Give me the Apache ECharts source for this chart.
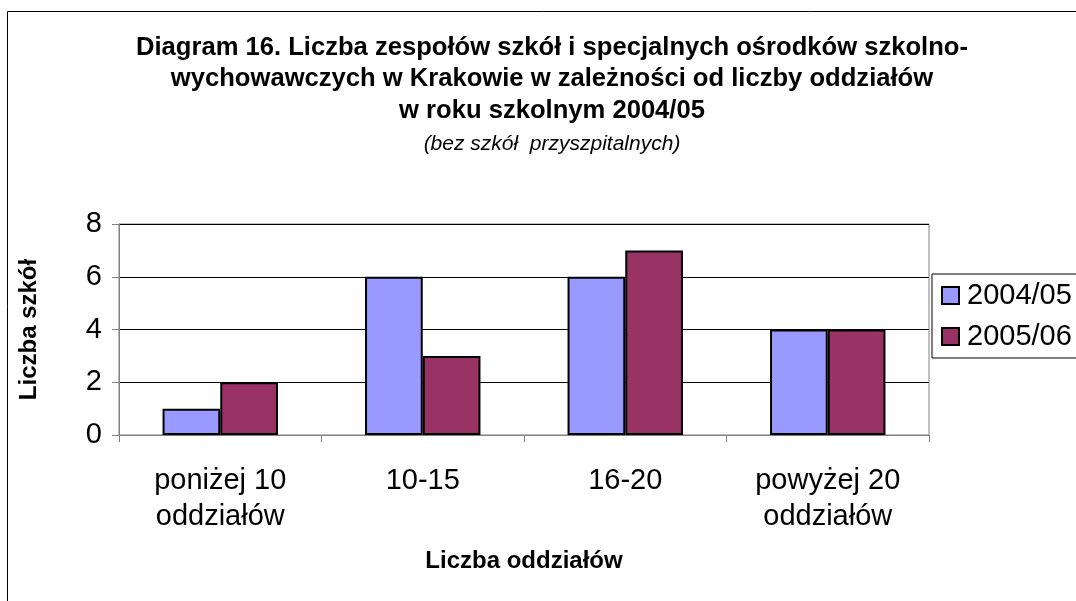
<!DOCTYPE html>
<html>
<head>
<meta charset="utf-8">
<script src="https://cdn.jsdelivr.net/npm/echarts@6/dist/echarts.min.js"></script>
<style>
  html, body { margin: 0; padding: 0; background: #fff; }
  #chart { width: 1076px; height: 601px; }
</style>
</head>
<body>
<div id="chart"></div>
<script>
var categories = ['poniżej 10\noddziałów', '10-15', '16-20', 'powyżej 20\noddziałów'];
var seriesNames = ['2004/05', '2005/06'];
var values2004 = [1, 6, 6, 4];
var values2005 = [2, 3, 7, 4];
var yTicks = { min: 0, max: 8, interval: 2 };

var font = 'Liberation Sans, Arial, sans-serif';
var chart = echarts.init(document.getElementById('chart'));

var option = {
    backgroundColor: '#fff',
    animation: false,
    title: {
        text: 'Diagram 16. Liczba zespołów szkół i specjalnych ośrodków szkolno-\nwychowawczych w Krakowie w zależności od liczby oddziałów\nw roku szkolnym 2004/05',
        subtext: '(bez szkół  przyszpitalnych)',
        left: 552,
        top: 32,
        textAlign: 'center',
        itemGap: 6,
        padding: 0,
        textStyle: { fontFamily: font, fontSize: 25.6, fontWeight: 'bold', color: '#000', lineHeight: 31.5 },
        subtextStyle: { fontFamily: font, fontSize: 21, fontStyle: 'italic', color: '#000', lineHeight: 24 }
    },
    legend: {
        data: seriesNames,
        orient: 'vertical',
        left: 932,
        top: 274,
        padding: [7, 10, 7, 9],
        itemWidth: 17,
        itemHeight: 17,
        itemGap: 12,
        icon: 'rect',
        borderColor: '#000',
        borderWidth: 1,
        itemStyle: { borderColor: '#000', borderWidth: 2 },
        textStyle: { fontFamily: font, fontSize: 29, color: '#000', padding: [0, 0, 0, 3] }
    },
    graphic: [{
        type: 'rect',
        shape: { x: 7.5, y: 11.5, width: 1100, height: 620 },
        style: { fill: 'none', stroke: '#000', lineWidth: 1 },
        silent: true,
        z: -10
    }],
    grid: {
        left: 119,
        right: 147,
        top: 224,
        bottom: 166,
        show: true,
        borderColor: '#808080',
        borderWidth: 1
    },
    xAxis: {
        type: 'category',
        data: categories,
        name: 'Liczba oddziałów',
        nameLocation: 'middle',
        nameGap: 114,
        nameTextStyle: { fontFamily: font, fontSize: 24, fontWeight: 'bold', color: '#000' },
        axisLine: { lineStyle: { color: '#808080', width: 1 } },
        axisTick: { show: true, length: 7, lineStyle: { color: '#808080' } },
        axisLabel: { fontFamily: font, fontSize: 29, color: '#000', lineHeight: 36, margin: 28, interval: 0 },
        splitLine: { show: false }
    },
    yAxis: {
        type: 'value',
        min: yTicks.min,
        max: yTicks.max,
        interval: yTicks.interval,
        name: 'Liczba szkół',
        nameLocation: 'middle',
        nameGap: 78,
        nameTextStyle: { fontFamily: font, fontSize: 24, fontWeight: 'bold', color: '#000' },
        axisLine: { show: true, lineStyle: { color: '#808080', width: 1 } },
        axisTick: { show: true, length: 7, lineStyle: { color: '#808080' } },
        axisLabel: { fontFamily: font, fontSize: 29, color: '#000', margin: 17 },
        splitLine: { show: true, lineStyle: { color: '#000', width: 1 } }
    },
    series: [
        {
            name: seriesNames[0],
            type: 'bar',
            data: values2004,
            barGap: '0%',
            barCategoryGap: '43%',
            itemStyle: { color: '#9999ff', borderColor: '#000', borderWidth: 2 }
        },
        {
            name: seriesNames[1],
            type: 'bar',
            data: values2005,
            barGap: '0%',
            barCategoryGap: '43%',
            itemStyle: { color: '#993366', borderColor: '#000', borderWidth: 2 }
        }
    ]
};

chart.setOption(option);
</script>
</body>
</html>
